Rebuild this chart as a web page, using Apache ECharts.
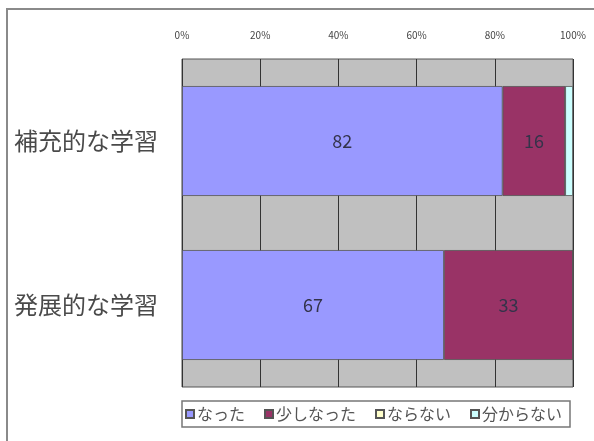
<!DOCTYPE html>
<html>
<head>
<meta charset="utf-8">
<script src="https://cdn.jsdelivr.net/npm/echarts@6/dist/echarts.min.js"></script>
<style>
  html, body { margin: 0; padding: 0; background: #fff; }
  #chart { width: 594px; height: 441px; }
</style>
</head>
<body>
<div id="chart"></div>
<script>
// Learning types (rows) and answer shares in percent
const categories = ['補充的な学習', '発展的な学習'];
const seriesNames = ['なった', '少しなった', 'ならない', '分からない'];
const naTta = [82, 67];
const sukoshi = [16, 33];
const naranai = [0, 0];
const wakaranai = [2, 0];
const tickLabels = ['0%', '20%', '40%', '60%', '80%', '100%'];

const colors = ['#9999ff', '#993366', '#ffffcc', '#ccffff'];
const values = [naTta, sukoshi, naranai, wakaranai];
const font = '"Noto Sans CJK JP", "Noto Sans", sans-serif';

const chart = echarts.init(document.getElementById('chart'));

const series = seriesNames.map((name, i) => ({
  name: name,
  type: 'bar',
  stack: 'total',
  barCategoryGap: '33%',
  data: values[i],
  itemStyle: { color: colors[i], borderColor: '#555', borderWidth: 0.8 },
  label: {
    show: i < 2,
    position: 'inside',
    fontFamily: font,
    fontSize: 18,
    color: '#33334a',
    formatter: p => (p.value > 0 ? p.value : '')
  },
  emphasis: { disabled: true }
}));

chart.setOption({
  animation: false,
  textStyle: { fontFamily: font },
  graphic: [{
    type: 'rect',
    shape: { x: 7, y: 9, width: 620, height: 480 },
    style: { fill: 'none', stroke: '#8a8a8a', lineWidth: 2 },
    silent: true,
    z: -1
  }],
  grid: {
    left: 182, right: 21, top: 59, bottom: 54,
    show: true,
    backgroundColor: '#c0c0c0',
    borderColor: '#555',
    borderWidth: 1
  },
  xAxis: {
    type: 'value',
    position: 'top',
    min: 0, max: 100, interval: 20,
    axisLine: { show: false },
    axisTick: { show: false },
    splitLine: { show: true, lineStyle: { color: '#333', width: 1 } },
    axisLabel: {
      margin: 19,
      fontSize: 10,
      color: '#444',
      formatter: v => tickLabels[Math.round(v / 20)]
    }
  },
  yAxis: {
    type: 'category',
    inverse: true,
    data: categories,
    axisLine: { show: false },
    axisTick: { show: false },
    axisLabel: { margin: 24, fontSize: 24, color: '#4a4a4a' }
  },
  legend: {
    left: 182,
    top: 401,
    padding: [5, 8, 5, 3],
    borderColor: '#777',
    borderWidth: 1.5,
    itemWidth: 8,
    itemHeight: 8,
    itemGap: 19,
    icon: 'rect',
    data: seriesNames,
    textStyle: { fontSize: 16, color: '#555', padding: [0, 0, 0, -2] }
  },
  series: series
});
</script>
</body>
</html>
